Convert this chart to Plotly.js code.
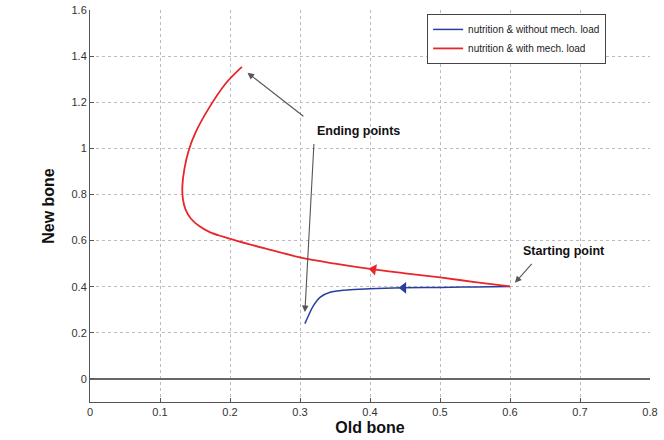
<!DOCTYPE html>
<html>
<head>
<meta charset="utf-8">
<script src="https://cdn.plot.ly/plotly-3.0.1.min.js"></script>
<style>html,body{margin:0;padding:0;background:#fff;}#chart{width:664px;height:440px;}</style>
</head>
<body>
<div id="chart"></div>
<script>
// Red: nutrition & with mech. load (from start to end)
const redX = [0.6, 0.55, 0.5, 0.45, 0.4, 0.35, 0.3, 0.25, 0.21, 0.19, 0.171, 0.156, 0.144, 0.1364, 0.1326, 0.132, 0.135, 0.141, 0.151, 0.169, 0.193, 0.217];
const redY = [0.401, 0.42, 0.44, 0.458, 0.477, 0.50, 0.527, 0.566, 0.599, 0.617, 0.637, 0.663, 0.696, 0.735, 0.783, 0.839, 0.913, 0.991, 1.07, 1.17, 1.278, 1.353];
// Blue: nutrition & without mech. load
const blueX = [0.6, 0.55, 0.5, 0.448, 0.4, 0.367, 0.343, 0.329, 0.319, 0.312, 0.307];
const blueY = [0.401, 0.399, 0.397, 0.395, 0.391, 0.386, 0.376, 0.355, 0.317, 0.274, 0.24];
// Direction arrows on the curves
const redArrowX = [0.405], redArrowY = [0.475];
const blueArrowX = [0.448], blueArrowY = [0.395];
// Labels
const seriesNames = ['nutrition & without mech. load', 'nutrition & with mech. load'];
const xTicks = [0, 0.1, 0.2, 0.3, 0.4, 0.5, 0.6, 0.7, 0.8];
const yTicks = [0, 0.2, 0.4, 0.6, 0.8, 1, 1.2, 1.4, 1.6];
// Annotation anchors
const endLabel = {text: 'Ending points', x: 0.384, y: 1.075};
const endArrows = [[0.225, 1.328, 0.307, 1.134], [0.307, 0.29, 0.32, 1.025]];
const startLabel = {text: 'Starting point', x: 0.677, y: 0.554};
const startArrow = [0.607, 0.417, 0.633, 0.505];

const blue = '#2a3e9e', red = '#e8262b';
const font = 'Liberation Sans, Arial, sans-serif';

const traces = [
  {x: blueX, y: blueY, mode: 'lines', name: seriesNames[0], line: {color: blue, width: 1.5, shape: 'spline', smoothing: 1}},
  {x: redX, y: redY, mode: 'lines', name: seriesNames[1], line: {color: red, width: 1.8, shape: 'spline', smoothing: 1}},
  {x: redArrowX, y: redArrowY, mode: 'markers', showlegend: false, hoverinfo: 'skip',
   marker: {symbol: 'triangle-left', size: 10, color: red, angle: 10}},
  {x: blueArrowX, y: blueArrowY, mode: 'markers', showlegend: false, hoverinfo: 'skip',
   marker: {symbol: 'triangle-left', size: 10, color: blue, angle: 0}}
];

const annotations = [];
annotations.push({x: endLabel.x, y: endLabel.y, xref: 'x', yref: 'y', text: '<b>' + endLabel.text + '</b>',
  showarrow: false, font: {family: font, size: 12.5, color: '#111'}});
annotations.push({x: startLabel.x, y: startLabel.y, xref: 'x', yref: 'y', text: '<b>' + startLabel.text + '</b>',
  showarrow: false, font: {family: font, size: 12.5, color: '#111'}});
endArrows.concat([startArrow]).forEach(a => {
  annotations.push({x: a[0], y: a[1], ax: a[2], ay: a[3], xref: 'x', yref: 'y', axref: 'x', ayref: 'y',
    text: '', showarrow: true, arrowhead: 2, arrowsize: 1.2, arrowwidth: 1.1, arrowcolor: '#555'});
});

const layout = {
  width: 664, height: 440,
  margin: {l: 90, r: 14, t: 10, b: 38},
  paper_bgcolor: '#fff', plot_bgcolor: '#fff',
  font: {family: font, color: '#333'},
  showlegend: true,
  legend: {x: 0.602, y: 0.99, xanchor: 'left', yanchor: 'top', bgcolor: '#fff',
    bordercolor: '#444', borderwidth: 1, font: {family: font, size: 10, color: '#222'},
    tracegroupgap: 0, itemwidth: 30},
  xaxis: {range: [0, 0.8], tickvals: xTicks, ticktext: xTicks.map(String),
    showgrid: true, gridcolor: '#bbb', griddash: 'dot', gridwidth: 1,
    zeroline: false, showline: true, linecolor: '#555', linewidth: 1,
    ticks: 'inside', ticklen: 4, tickcolor: '#555', tickfont: {size: 11, color: '#333'},
    title: {text: '<b>Old bone</b>', font: {family: font, size: 16, color: '#111'}, standoff: 4}},
  yaxis: {range: [-0.1, 1.6], tickvals: yTicks, ticktext: yTicks.map(String),
    showgrid: true, gridcolor: '#bbb', griddash: 'dot', gridwidth: 1,
    zeroline: true, zerolinecolor: '#666', zerolinewidth: 1.5,
    showline: true, linecolor: '#555', linewidth: 1,
    ticks: 'inside', ticklen: 4, tickcolor: '#555', tickfont: {size: 11, color: '#333'},
    title: {text: '<b>New bone</b>', font: {family: font, size: 16, color: '#111'}, standoff: 12}},
  annotations: annotations
};

Plotly.newPlot('chart', traces, layout, {staticPlot: true, displayModeBar: false});
</script>
</body>
</html>
